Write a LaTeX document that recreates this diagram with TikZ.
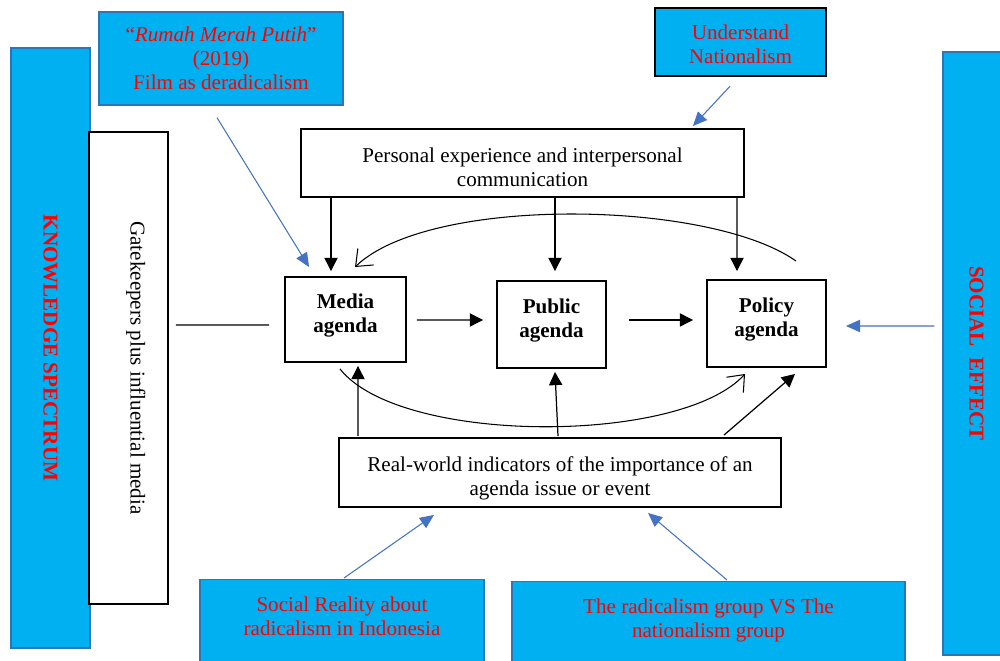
\documentclass[tikz,border=0pt]{standalone}
\usepackage{fontspec}
\setmainfont{Liberation Serif}
\usetikzlibrary{arrows.meta}
\definecolor{panelblue}{HTML}{00B0F0}
\definecolor{panelline}{HTML}{2E75B6}
\definecolor{hintblue}{HTML}{4472C4}

\begin{document}
\begin{tikzpicture}[x=0.02cm, y=-0.02cm,
  txt/.style={font=\fontsize{12}{13.8}\selectfont, align=center},
  bold/.style={font=\fontsize{12}{13.8}\selectfont\bfseries},
  box/.style={txt, draw, line width=1.1pt, inner sep=0pt},
  panel/.style={txt, fill=panelblue, draw=panelline, line width=0.8pt, text=red, inner sep=0pt},
  agenda/.style={box, bold, text depth=7.5pt},
  plain/.style={line width=0.7pt},
  flow/.style={-{Triangle[width=7.5pt,length=7.5pt]}, line width=0.7pt},
  loopback/.style={-{Straight Barb[length=8pt,width=13pt]}, line width=0.6pt},
  hint/.style={-{Triangle[width=7pt,length=8pt]}, hintblue, line width=0.6pt}]

  \clip (0,0) rectangle (1000,661);

  \node[panel, bold, rotate=-90, minimum width=12cm, minimum height=1.58cm] (know) at (50.5,348) {KNOWLEDGE SPECTRUM};
  \node[box, fill=white, rotate=-90, text depth=11pt, minimum width=9.44cm, minimum height=1.58cm] (gate) at (128.5,368) {Gatekeepers plus influential media};
  \node[panel, bold, rotate=-90, minimum width=12.06cm, minimum height=1.34cm] (effect) at (976.5,353.5) {SOCIAL~~EFFECT};

  \node[panel, minimum width=4.88cm, minimum height=1.86cm] (film) at (221,58.5) {``\textit{Rumah Merah Putih}''\\(2019)\\Film as deradicalism};
  \node[panel, draw=black, line width=1.4pt, text height=25pt, minimum width=3.42cm, minimum height=1.36cm] (nation) at (740.5,42) {Understand\\Nationalism};
  \node[box, text height=27pt, minimum width=8.86cm, minimum height=1.36cm] (personal) at (522.5,163) {Personal experience and interpersonal\\communication};

  \node[agenda, minimum width=2.42cm, minimum height=1.7cm] (media) at (345.5,319.5) {Media\\agenda};
  \node[agenda, minimum width=2.18cm, minimum height=1.74cm] (public) at (551.5,324.5) {Public\\agenda};
  \node[agenda, minimum width=2.38cm, minimum height=1.74cm] (policy) at (766.5,323.5) {Policy\\agenda};

  \node[box, text height=29pt, minimum width=8.84cm, minimum height=1.38cm] (real) at (560,472.5) {Real-world indicators of the importance of an\\agenda issue or event};

  \node[panel, anchor=north, minimum width=5.68cm, inner ysep=9.5pt, text depth=2cm] (socreal) at (342,579) {Social Reality about\\radicalism in Indonesia};
  \node[panel, anchor=north, minimum width=7.86cm, inner ysep=9.5pt, text depth=2cm] (groups) at (708.5,581) {The radicalism group VS The\\nationalism group};

  \draw[plain] ([shift={(7,-43)}]gate.north) -- ([shift={(-15,5.5)}]media.west);
  \draw[flow] ([shift={(10,0.5)}]media.east) -- ([shift={(-13,-4.5)}]public.west);
  \draw[flow] ([shift={(22,-4.5)}]public.east) -- ([shift={(-13,-3.5)}]policy.west);

  \draw[flow] ([shift={(-191.5,0)}]personal.south) -- ([shift={(-14.5,-5)}]media.north);
  \draw[flow] ([shift={(32.5,0)}]personal.south) -- ([shift={(3.5,-9)}]public.north);
  \draw[flow] ([shift={(214.5,0)}]personal.south) -- ([shift={(-29.5,-8)}]policy.north);

  \draw[flow] ([shift={(-202,-1)}]real.north) -- ([shift={(12.5,3)}]media.south);
  \draw[flow] ([shift={(-2,-1)}]real.north) -- ([shift={(3.5,3)}]public.south);
  \draw[flow] ([shift={(164,-2)}]real.north) -- ([shift={(28.5,6)}]policy.south);

  \draw[loopback] ([shift={(29.5,-18)}]policy.north) .. controls (710,200) and (430,195) .. ([shift={(9.5,-9)}]media.north);
  \draw[loopback] ([shift={(-5.5,6)}]media.south) .. controls (400,445) and (680,445) .. ([shift={(-21.5,6)}]policy.south);

  \draw[hint] ([shift={(-4,12)}]film.south) -- ([shift={(25,-9)}]media.north west);
  \draw[hint] ([shift={(-10.5,9)}]nation.south) -- ([shift={(-52,-2)}]personal.north east);
  \draw[hint] ([shift={(2,-1)}]socreal.north) -- ([shift={(-126,7)}]real.south);
  \draw[hint] ([shift={(18.5,-1)}]groups.north) -- ([shift={(88,5)}]real.south);
  \draw[hint] ([shift={(-8,-27.5)}]effect.south) -- ([shift={(19,2.5)}]policy.east);
\end{tikzpicture}
\end{document}
